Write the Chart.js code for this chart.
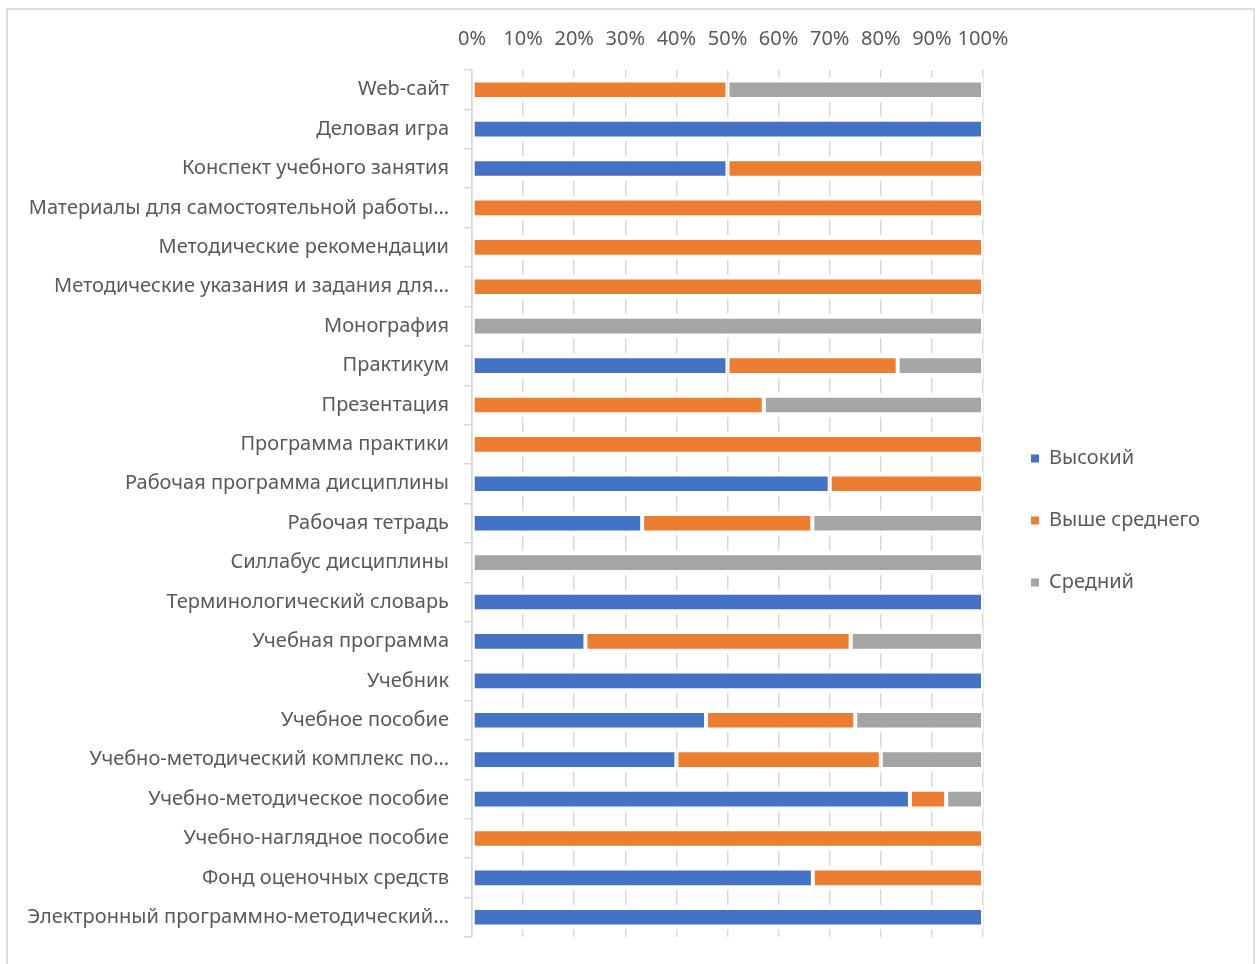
<!DOCTYPE html>
<html>
<head>
<meta charset="utf-8">
<script src="https://cdn.jsdelivr.net/npm/chart.js@4"></script>
<style>
  html, body { margin: 0; padding: 0; background: #fff; overflow: hidden; }
  #frame { position: absolute; left: 6px; top: 8px; width: 1245px; height: 980px; border: 2px solid #dedede; pointer-events: none; }
  canvas { position: absolute; left: 0; top: 0; }
</style>
</head>
<body>
<canvas id="chart" width="1259" height="964"></canvas>
<div id="frame"></div>
<script>
const categories = [
    'Web-сайт',
    'Деловая игра',
    'Конспект учебного занятия',
    'Материалы для самостоятельной работы…',
    'Методические рекомендации',
    'Методические указания и задания для…',
    'Монография',
    'Практикум',
    'Презентация',
    'Программа практики',
    'Рабочая программа дисциплины',
    'Рабочая тетрадь',
    'Силлабус дисциплины',
    'Терминологический словарь',
    'Учебная программа',
    'Учебник',
    'Учебное пособие',
    'Учебно-методический комплекс по…',
    'Учебно-методическое пособие',
    'Учебно-наглядное пособие',
    'Фонд оценочных средств',
    'Электронный программно-методический…'
];

// percent of each category
const high     = [0, 100, 50, 0, 0, 0, 0, 50, 0, 0, 70, 33.3, 0, 100, 22.2, 100, 45.8, 40, 85.7, 0, 66.7, 100];
const aboveAvg = [50, 0, 50, 100, 100, 100, 0, 33.3, 57.1, 100, 30, 33.3, 0, 0, 51.9, 0, 29.2, 40, 7.1, 100, 33.3, 0];
const average  = [50, 0, 0, 0, 0, 0, 100, 16.7, 42.9, 0, 0, 33.4, 100, 0, 25.9, 0, 25, 20, 7.2, 0, 0, 0];

const seriesNames = ['Высокий', 'Выше среднего', 'Средний'];
const colors = ['#4472C4', '#ED7D31', '#A5A5A5'];

const textColor = '#595959';
const gridColor = '#d9d9d9';
const fontFamily = "'Noto Sans', 'Open Sans', sans-serif";

function makeDataset(i, values) {
    return {
        label: seriesNames[i],
        data: values,
        backgroundColor: colors[i],
        borderColor: '#ffffff',
        borderWidth: { top: 5, bottom: 5, left: 2, right: 2 },
        borderSkipped: false,
        barPercentage: 0.625,
        categoryPercentage: 1
    };
}

// excel puts the legend a bit lower and further right than chart.js does
const legendNudge = {
    id: 'legendNudge',
    afterLayout(chart) {
        const lg = chart.legend;
        lg.left += 6; lg.right += 6;
        lg.top += 17; lg.bottom += 17;
    }
};

new Chart(document.getElementById('chart'), {
    type: 'bar',
    data: {
        labels: categories,
        datasets: [
            makeDataset(0, high),
            makeDataset(1, aboveAvg),
            makeDataset(2, average)
        ]
    },
    plugins: [legendNudge],
    options: {
        indexAxis: 'y',
        responsive: false,
        animation: false,
        layout: { padding: { left: 0, top: 0, right: 55, bottom: 24 } },
        plugins: {
            legend: {
                position: 'right',
                fullSize: false,
                labels: {
                    color: textColor,
                    font: { family: fontFamily, size: 20 },
                    boxWidth: 8,
                    boxHeight: 8,
                    padding: 42,
                    generateLabels: chart =>
                        Chart.defaults.plugins.legend.labels.generateLabels(chart)
                            .map(item => Object.assign(item, { lineWidth: 0, strokeStyle: 'rgba(0,0,0,0)' }))
                }
            },
            tooltip: { enabled: false }
        },
        scales: {
            x: {
                position: 'top',
                stacked: true,
                min: 0,
                max: 100,
                ticks: {
                    stepSize: 10,
                    color: textColor,
                    font: { family: fontFamily, size: 20 },
                    padding: 19,
                    maxRotation: 0,
                    autoSkip: false,
                    callback: v => v + '%'
                },
                grid: { color: gridColor, lineWidth: 1.5, drawTicks: false },
                border: { display: false },
                afterFit: scale => { scale.height = 70; }
            },
            y: {
                stacked: true,
                ticks: {
                    color: textColor,
                    font: { family: fontFamily, size: 20 },
                    padding: 15,
                    autoSkip: false
                },
                grid: { color: gridColor, lineWidth: 1.5, drawOnChartArea: false, tickLength: 8, offset: true },
                border: { display: true, color: gridColor, width: 1.5, z: 1 },
                afterFit: scale => { scale.width = 472; }
            }
        }
    }
});
</script>
</body>
</html>
